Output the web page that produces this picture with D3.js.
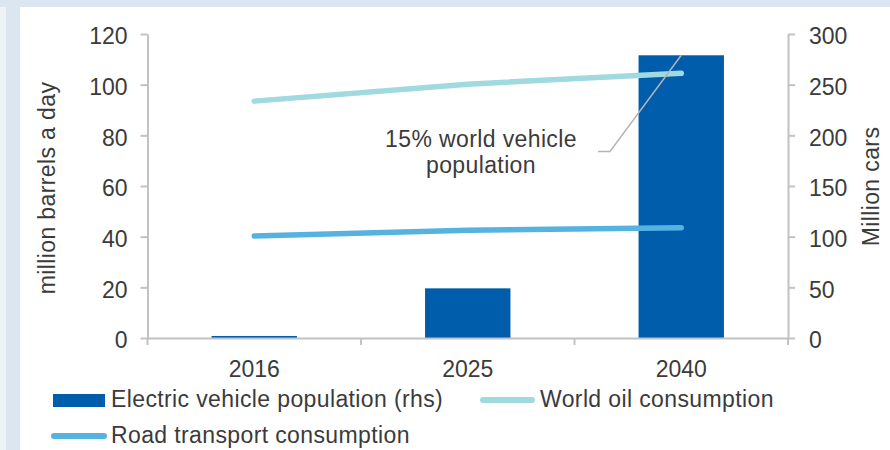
<!DOCTYPE html>
<html>
<head>
<meta charset="utf-8">
<script src="https://cdn.jsdelivr.net/npm/d3@7"></script>
<style>
  html, body { margin: 0; padding: 0; background: #ffffff; }
  svg { display: block; }
  text { font-family: "Liberation Sans", Arial, sans-serif; fill: #3b3b3b; }
  .words { letter-spacing: 0.38px; }
</style>
</head>
<body>
<svg id="chart" width="890" height="450"></svg>
<script>
// Chart data
const years = ["2016", "2025", "2040"];
const evPopulation = [2, 49, 279];          // million cars (right axis)
const worldOil = [93.5, 100.2, 104.5];      // million barrels a day (left axis)
const roadTransport = [40.3, 42.5, 43.5];   // million barrels a day (left axis)
const leftTicks = [0, 20, 40, 60, 80, 100, 120];
const rightTicks = [0, 50, 100, 150, 200, 250, 300];
const leftTitle = "million barrels a day";
const rightTitle = "Million cars";
const legendLabels = ["Electric vehicle population (rhs)", "World oil consumption", "Road transport consumption"];
const noteLines = ["15% world vehicle", "population"];

const colors = { ev: "#005DAC", oil: "#A0D9E0", road: "#56B2DF", axis: "#C0C2C5", leader: "#B4B4B4" };
const FONT = 23;

const svg = d3.select("#chart");

// frame: pale blue border with a white panel
svg.append("rect").attr("x", 0).attr("y", 0).attr("width", 890).attr("height", 450).attr("fill", "#DCE6F0");
svg.append("rect").attr("x", 0).attr("y", 7).attr("width", 6).attr("height", 443).attr("fill", "#EEF3F8");
svg.append("rect").attr("x", 20).attr("y", 7).attr("width", 870).attr("height", 443).attr("fill", "#ffffff");

const plot = { left: 147.5, right: 788, top: 34, bottom: 338 };

const x = d3.scaleBand().domain(years).range([plot.left, plot.right]).padding(0);
const yL = d3.scaleLinear().domain([0, 120]).range([plot.bottom, plot.top]);
const yR = d3.scaleLinear().domain([0, 300]).range([plot.bottom, plot.top]);
const cx = d => x(d) + x.bandwidth() / 2;

// bars: electric vehicle population (rhs)
const barW = x.bandwidth() * 0.4;
svg.append("g").selectAll("rect").data(years).join("rect")
  .attr("x", d => cx(d) - barW / 2)
  .attr("width", barW)
  .attr("y", (d, i) => yR(evPopulation[i]))
  .attr("height", (d, i) => yR(0) - yR(evPopulation[i]))
  .attr("fill", colors.ev);

// axes
function styleAxis(g) {
  g.selectAll(".domain").attr("stroke", colors.axis).attr("stroke-width", 2);
  g.selectAll(".tick line").attr("stroke", colors.axis).attr("stroke-width", 2);
  g.selectAll(".tick text").attr("font-size", FONT).attr("font-family", null).attr("fill", "#3b3b3b");
}

const leftAxis = svg.append("g").attr("transform", `translate(${plot.left},0)`)
  .call(d3.axisLeft(yL).tickValues(leftTicks).tickSize(7).tickSizeOuter(0).tickPadding(13));
styleAxis(leftAxis);
leftAxis.selectAll(".tick text").attr("dy", "0.42em");

const rightAxis = svg.append("g").attr("transform", `translate(${plot.right},0)`)
  .call(d3.axisRight(yR).tickValues(rightTicks).tickSize(7).tickSizeOuter(0).tickPadding(14));
styleAxis(rightAxis);
rightAxis.selectAll(".tick text").attr("dy", "0.42em");

// category axis: baseline, boundary ticks and centred year labels
const boundaries = years.map(d => x(d)).concat([plot.right]);
const xAxis = svg.append("g");
xAxis.append("line")
  .attr("x1", plot.left).attr("x2", plot.right)
  .attr("y1", plot.bottom + 0.5).attr("y2", plot.bottom + 0.5)
  .attr("stroke", colors.axis).attr("stroke-width", 2);
xAxis.selectAll("line.btick").data(boundaries).join("line").attr("class", "btick")
  .attr("x1", d => d).attr("x2", d => d)
  .attr("y1", plot.bottom).attr("y2", plot.bottom + 7)
  .attr("stroke", colors.axis).attr("stroke-width", 2);
xAxis.selectAll("text").data(years).join("text")
  .attr("x", d => cx(d)).attr("y", 376.5)
  .attr("text-anchor", "middle").attr("font-size", FONT)
  .text(d => d);

// lines
const lineL = d3.line().x((d, i) => cx(years[i])).y(d => yL(d));
svg.append("path").datum(worldOil).attr("d", lineL)
  .attr("fill", "none").attr("stroke", colors.oil).attr("stroke-width", 5.5)
  .attr("stroke-linecap", "round").attr("stroke-linejoin", "round");
svg.append("path").datum(roadTransport).attr("d", lineL)
  .attr("fill", "none").attr("stroke", colors.road).attr("stroke-width", 5.5)
  .attr("stroke-linecap", "round").attr("stroke-linejoin", "round");

// axis titles
svg.append("text").attr("class", "words")
  .attr("transform", `translate(55,${(plot.top + plot.bottom) / 2 + 2}) rotate(-90)`)
  .attr("text-anchor", "middle").attr("font-size", FONT)
  .text(leftTitle);
svg.append("text").attr("class", "words")
  .attr("transform", `translate(879,${(plot.top + plot.bottom) / 2 + 0.5}) rotate(-90)`)
  .attr("text-anchor", "middle").attr("font-size", FONT)
  .text(rightTitle);

// annotation with leader to the 2040 bar
const note = svg.append("text").attr("class", "words").attr("text-anchor", "middle").attr("font-size", FONT);
note.selectAll("tspan").data(noteLines).join("tspan")
  .attr("x", 481).attr("y", (d, i) => 146.5 + i * 26.5)
  .text(d => d);
const tip = [cx("2040"), yR(evPopulation[2])];
svg.append("polyline")
  .attr("points", [[598, 151.5], [610, 151.5], tip].map(p => p.join(",")).join(" "))
  .attr("fill", "none").attr("stroke", colors.leader).attr("stroke-width", 1.5);

// legend
const lg = svg.append("g");
lg.append("rect").attr("x", 53).attr("y", 394).attr("width", 52).attr("height", 13).attr("fill", colors.ev);
lg.append("text").attr("class", "words").attr("x", 111).attr("y", 407).attr("font-size", FONT).text(legendLabels[0]);
lg.append("line").attr("x1", 483).attr("x2", 532).attr("y1", 400).attr("y2", 400)
  .attr("stroke", colors.oil).attr("stroke-width", 6).attr("stroke-linecap", "round");
lg.append("text").attr("class", "words").attr("x", 540).attr("y", 407).attr("font-size", FONT).text(legendLabels[1]);
lg.append("line").attr("x1", 54).attr("x2", 104).attr("y1", 436).attr("y2", 436)
  .attr("stroke", colors.road).attr("stroke-width", 6).attr("stroke-linecap", "round");
lg.append("text").attr("class", "words").attr("x", 111).attr("y", 443).attr("font-size", FONT).text(legendLabels[2]);
</script>
</body>
</html>
